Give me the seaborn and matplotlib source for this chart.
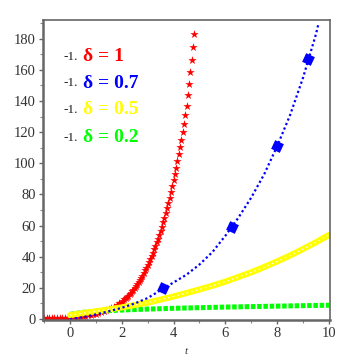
import matplotlib
matplotlib.use("Agg")
import matplotlib.pyplot as plt
import numpy as np
import seaborn as sns
from matplotlib.ticker import MultipleLocator

# ---- data ----
# red: step 0.1 up to t=1.9, then step 0.05 (as dense as the stars in the picture)
red_t = np.concatenate([np.round(np.arange(-1.0, 1.95, 0.1), 2),
                        np.round(np.arange(2.0, 4.825, 0.05), 2)])
red_v = [0.6, 0.6, 0.6, 0.6, 0.7, 0.7, 0.7, 0.8, 0.8, 0.9,
         1.0, 1.1, 1.3, 1.5, 1.7, 1.9, 2.1, 2.4, 2.7, 3.0,
         3.4, 3.8, 4.3, 4.9, 5.5, 6.2, 7.0, 7.9, 8.9, 10.0,
         11.2, 11.9, 12.6, 13.3, 14.1, 14.9, 15.8, 16.7, 17.7, 18.7,
         19.8, 21.0, 22.2, 23.5, 24.9, 26.4, 27.9, 29.5, 31.2, 33.0,
         34.8, 36.7, 38.6, 40.6, 42.6, 44.7, 46.9, 49.2, 51.5, 54.0,
         56.5, 59.2, 62.0, 65.0, 68.0, 71.2, 74.5, 78.0, 81.5, 85.2,
         89.0, 93.0, 97.0, 101.5, 106.0, 110.5, 115.0, 120.0, 125.0, 131.0,
         137.0, 144.0, 151.0, 158.5, 166.0, 174.5, 183.0]

blue_t = [0, 0.5, 1, 1.5, 2, 2.5, 3, 3.5, 4, 4.5, 5, 5.5, 6, 6.5,
          7, 7.5, 8, 8.5, 9, 9.5, 9.6]
blue_v = [0.0, 1.2, 3.0, 5.0, 7.2, 10.0, 13.5, 18.5, 23.5, 28.5, 35.0,
          43.0, 53.5, 65.0, 78.0, 93.0, 111.0, 131.0, 155.0, 183.0, 190.0]
blue_mark_t = [3.6, 6.25, 8.0, 9.2]
blue_mark_v = [20.0, 59.0, 111.0, 167.0]

yellow_t = [0, 0.5, 1, 1.5, 2, 2.5, 3, 3.5, 4, 4.5, 5, 5.5, 6, 6.5,
            7, 7.5, 8, 8.5, 9, 9.5, 10]
yellow_v = [2.5, 3.8, 5.0, 6.2, 7.5, 9.0, 10.5, 12.5, 14.5, 16.7, 19.0,
            21.4, 24.0, 27.0, 30.0, 33.4, 37.0, 40.8, 45.0, 49.3, 54.0]

green_t = [0, 0.5, 1, 2, 3, 4, 5, 6, 7, 8, 9, 10]
green_v = [3.0, 4.3, 5.0, 5.8, 6.4, 6.9, 7.3, 7.7, 8.0, 8.3, 8.6, 8.9]

labels = ["δ = 1", "δ = 0.7", "δ = 0.5", "δ = 0.2"]
colors = ["#ff0000", "#0000ff", "#ffff00", "#00ff00"]

sns.set_style("ticks")
plt.rcParams["font.family"] = ["Liberation Serif", "DejaVu Serif"]

fig, ax = plt.subplots(figsize=(3.64, 3.6), dpi=100)
fig.subplots_adjust(left=43 / 364, right=330 / 364, bottom=40 / 360, top=340 / 360)

# green: dense small squares -> thick dashed band
sns.lineplot(x=green_t, y=green_v, ax=ax, color=colors[3], linewidth=3.6,
             linestyle=(0, (0.9, 0.35)))
# yellow: open squares -> thick band with white holes
sns.lineplot(x=yellow_t, y=yellow_v, ax=ax, color=colors[2], linewidth=4.4)
sns.lineplot(x=yellow_t, y=yellow_v, ax=ax, color="white", linewidth=0.9,
             linestyle=(0, (1.2, 2.6)))
# blue: dotted curve with a few big markers
sns.lineplot(x=blue_t, y=blue_v, ax=ax, color=colors[1], linewidth=1.6,
             linestyle=(0, (1, 1.2)))
sns.scatterplot(x=blue_mark_t, y=blue_mark_v, ax=ax, color=colors[1],
                marker=(4, 0, 20), s=95, linewidth=0)
# red: stars
sns.scatterplot(x=red_t, y=red_v, ax=ax, color=colors[0], marker="*",
                s=40, linewidth=0)

ax.set_xlim(-1.04, 10.04)
ax.set_ylim(-0.6, 192)
ax.xaxis.set_major_locator(MultipleLocator(2))
ax.xaxis.set_minor_locator(MultipleLocator(1))
ax.yaxis.set_major_locator(MultipleLocator(20))
ax.yaxis.set_minor_locator(MultipleLocator(10))

for side in ["left", "bottom"]:
    ax.spines[side].set_linewidth(1.8)
    ax.spines[side].set_color("#666666")
for side in ["top", "right"]:
    ax.spines[side].set_linewidth(1.2)
    ax.spines[side].set_color("#666666")

ax.tick_params(which="major", direction="out", length=3, width=1,
               color="#666666", labelsize=10.5, labelcolor="#333333", pad=2)
ax.tick_params(which="minor", direction="out", length=2, width=0.8,
               color="#888888")
ax.set_xlabel("t", fontsize=8, style="italic", color="#333333", labelpad=5)
ax.set_ylabel("")

ys = [0.877, 0.79, 0.70, 0.607]
for lab, col, yy in zip(labels, colors, ys):
    ax.text(0.07, yy, "-1.", transform=ax.transAxes, fontsize=9.5,
            color="#222222", va="center", ha="left")
    ax.text(0.139, yy, lab, transform=ax.transAxes, fontsize=14,
            fontweight="bold", color=col, va="center", ha="left")

plt.savefig("out.png", dpi=100)
